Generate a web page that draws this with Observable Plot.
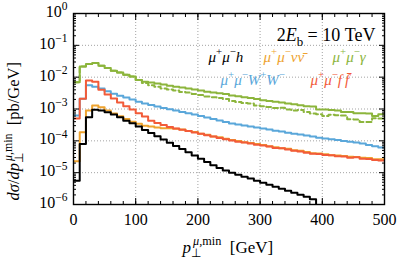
<!DOCTYPE html>
<html><head><meta charset="utf-8">
<script src="https://cdn.jsdelivr.net/npm/d3@7"></script>
<script src="https://cdn.jsdelivr.net/npm/@observablehq/plot@0.6"></script>
<style>body{margin:0;background:#fff;}</style>
</head><body><div id="chart"></div>
<script>
// bin left edges (10 GeV bins), upper edge of last bin
const binLeft = d3.range(0, 500, 10);
const lastEdge = 500;

// dσ/dp⊥ [pb/GeV] per bin
const muMuGamma = [6.9e-3,2.15e-2,2.6e-2,2.8e-2,2.3e-2,1.95e-2,1.6e-2,1.4e-2,1.2e-2,1.05e-2,
  8.1e-3,7.2e-3,6.8e-3,6.3e-3,5.9e-3,5.4e-3,5.0e-3,4.7e-3,4.4e-3,4.1e-3,
  3.8e-3,3.5e-3,3.3e-3,3.15e-3,2.95e-3,2.65e-3,2.5e-3,2.35e-3,2.2e-3,2.05e-3,
  1.9e-3,1.78e-3,1.69e-3,1.6e-3,1.48e-3,1.42e-3,1.32e-3,1.23e-3,1.2e-3,9.6e-4,
  9.6e-4,9.3e-4,8.9e-4,8.0e-4,8.0e-4,7.4e-4,7.4e-4,7.2e-4,6.0e-4,6.9e-4];
const muMuGammaDashed = [6.9e-3,2.15e-2,2.6e-2,2.8e-2,2.3e-2,1.95e-2,1.6e-2,1.4e-2,1.2e-2,1.05e-2,
  8.1e-3,6.5e-3,5.6e-3,5.0e-3,4.4e-3,4.1e-3,3.8e-3,3.4e-3,3.3e-3,2.95e-3,
  2.75e-3,2.45e-3,2.35e-3,2.2e-3,2.05e-3,1.78e-3,1.65e-3,1.55e-3,1.48e-3,1.28e-3,
  1.23e-3,1.15e-3,1.07e-3,1.1e-3,9.6e-4,8.9e-4,9.3e-4,8.0e-4,7.2e-4,6.9e-4,
  6.0e-4,6.6e-4,6.4e-4,6.2e-4,4.8e-4,4.7e-4,3.9e-4,3.9e-4,5.1e-4,5.0e-4];
const muMuWW = [6.2e-4,2.1e-3,5.6e-3,5.0e-3,4.4e-3,3.6e-3,3.0e-3,2.6e-3,2.3e-3,2.0e-3,
  1.7e-3,1.48e-3,1.33e-3,1.19e-3,1.08e-3,9.9e-4,8.9e-4,8.1e-4,7.4e-4,6.7e-4,
  6.07e-4,5.44e-4,4.89e-4,4.38e-4,3.93e-4,3.52e-4,3.23e-4,3.05e-4,2.8e-4,2.6e-4,
  2.42e-4,2.25e-4,2.09e-4,1.97e-4,1.81e-4,1.68e-4,1.57e-4,1.46e-4,1.36e-4,1.26e-4,
  1.19e-4,1.12e-4,1.06e-4,9.9e-5,9.3e-5,8.8e-5,8.2e-5,7.4e-5,6.8e-5,6.2e-5];
const muMuFF = [5.0e-4,2.1e-3,7.8e-3,7.2e-3,4.0e-3,2.84e-3,2.12e-3,1.59e-3,1.23e-3,9.6e-4,
  7.4e-4,5.8e-4,4.3e-4,3.6e-4,3.12e-4,2.74e-4,2.45e-4,2.22e-4,2.02e-4,1.84e-4,
  1.66e-4,1.5e-4,1.36e-4,1.23e-4,1.12e-4,1.03e-4,9.4e-5,8.8e-5,8.2e-5,7.6e-5,
  7.1e-5,6.6e-5,6.0e-5,5.8e-5,5.3e-5,4.85e-5,4.64e-5,4.2e-5,3.95e-5,3.85e-5,
  3.57e-5,3.52e-5,3.28e-5,3.23e-5,2.96e-5,3.05e-5,2.72e-5,2.68e-5,2.49e-5,2.42e-5];
const muMuNuNu = [2.27e-5,1.85e-4,8.9e-4,1.28e-3,1.13e-3,8.9e-4,7.2e-4,5.9e-4,4.89e-4,4.0e-4,
  3.47e-4,3.0e-4,2.8e-4,2.6e-4,2.5e-4,2.5e-4,2.4e-4,2.25e-4,2.02e-4,1.88e-4,
  1.68e-4,1.55e-4,1.38e-4,1.29e-4,1.16e-4,1.06e-4,9.8e-5,9.1e-5,8.5e-5,7.9e-5,
  7.4e-5,6.7e-5,6.3e-5,5.9e-5,5.6e-5,5.1e-5,4.85e-5,4.45e-5,4.07e-5,4.0e-5,
  3.78e-5,3.52e-5,3.47e-5,3.33e-5,3.15e-5,3.1e-5,2.93e-5,2.89e-5,2.65e-5,2.65e-5];
const muMuH = [5.6e-6,8.0e-5,5.5e-4,9.4e-4,8.9e-4,7.9e-4,6.7e-4,5.5e-4,4.3e-4,3.55e-4,
  2.8e-4,2.2e-4,1.75e-4,1.39e-4,1.1e-4,8.7e-5,6.9e-5,5.5e-5,4.35e-5,3.45e-5,
  2.74e-5,2.17e-5,1.72e-5,1.39e-5,1.16e-5,1.0e-5,8.6e-6,7.5e-6,6.5e-6,5.6e-6,
  4.85e-6,4.2e-6,3.63e-6,3.14e-6,2.72e-6,2.35e-6,2.03e-6,1.76e-6,1.47e-6,0,
  0,0,0,0,0,0,0,0,0,0];

const xMajor = [0,100,200,300,400,500];
const xMinor = d3.range(0, 501, 20);
const yMajor = [1e-6,1e-5,1e-4,1e-3,1e-2,1e-1,1];
const yMinor = yMajor.slice(0,-1).flatMap(d => d3.range(2,10).map(k => k*d));

const C = {h:"#000000", nu:"#eea32f", gam:"#8cb53c", ww:"#5aa7da", ff:"#f25b39"};

function steps(vals){
  const rows = vals.map((v,i)=>({x: binLeft[i], v: v > 0 ? v : 1e-9}));
  rows.push({x: lastEdge, v: rows[rows.length-1].v});
  return rows;
}

// rich text markup
const rich = {}; let rid = 0;
function R(segs, fs, supK = 0.42){
  let cur = 0, out = "";
  for (const [kind, s, o = {}] of segs){
    const shift = kind === "sup" ? -supK*fs : kind === "sub" ? 0.28*fs : 0;
    const size = kind === "t" ? fs : 0.72*fs;
    const dy = shift - cur; cur = shift;
    out += `<tspan dy="${dy}" font-size="${size}"${o.i ? ' font-style="italic"' : ''}${o.dx ? ` dx="${o.dx}"` : ''}>${s}</tspan>`;
  }
  const key = `@@${rid++}@@`; rich[key] = out; return key;
}
const TF = 16;
const yFmt = d => R([["t","10"],["sup", String(Math.round(Math.log10(d))).replace("-","−")]], TF);

const mm = [["t","μ",{i:1}],["sup","+"],["t","μ",{i:1}],["sup","−"]];
const LEG = 15;
const labH = R([...mm,["t","h",{i:1}]], LEG);
const labNu = R([...mm,["t","νν\u0304",{i:1}]], LEG);
const labGam = R([...mm,["t","γ",{i:1}]], LEG);
const labWW = R([...mm,["t","W",{i:1}],["sup","+"],["t","W",{i:1}],["sup","−"]], LEG);
const labFF = R([...mm,["t","f\u2009f\u0304",{i:1}]], LEG);
const labE = R([["t","2"],["t","E",{i:1}],["sub","b"],["t","\u00a0=\u00a010\u00a0TeV"]], 18);
const labX = R([["t","p",{i:1}],["sub","⊥"],["sup","μ",{i:1,dx:-8}],["sup",",min"],["t","\u00a0\u00a0[GeV]"]], 17);
const labY = R([["t","dσ",{i:1}],["t","/"],["t","dp",{i:1}],["sub","⊥"],["sup","μ",{i:1,dx:-8}],["sup",",min"],["t","\u00a0\u00a0[pb/GeV]"]], 16.5, 0.38);

const lineOpts = (c, extra={}) => ({x:"x", y:"v", curve:"step-after", stroke:c, strokeWidth:2, clip:true, ...extra});
const gridOpts = {stroke:"#999", strokeOpacity:1, strokeDasharray:"1,2", strokeWidth:0.9};
const noTxt = {tickFormat: () => "", label: null};

const plot = Plot.plot({
  width: 399, height: 266,
  marginLeft: 73, marginRight: 15, marginTop: 13, marginBottom: 62,
  style: {fontFamily: "'Liberation Serif', serif", fontSize: "16px", background: "#fff", color: "#000"},
  x: {domain: [0, 500]},
  y: {type: "log", domain: [1e-6, 1]},
  marks: [
    Plot.gridX(xMajor.slice(1,-1), gridOpts),
    Plot.gridY(yMajor.slice(1,-1), gridOpts),
    Plot.line(steps(muMuGammaDashed), lineOpts(C.gam, {strokeDasharray:"5,3"})),
    Plot.line(steps(muMuGamma), lineOpts(C.gam)),
    Plot.line(steps(muMuWW), lineOpts(C.ww)),
    Plot.line(steps(muMuNuNu), lineOpts(C.nu)),
    Plot.line(steps(muMuFF), lineOpts(C.ff)),
    Plot.line(steps(muMuH), lineOpts(C.h)),
    Plot.axisX(xMajor, {anchor:"bottom", tickSize:0, tickPadding:9, fontSize:TF, label:null}),
    Plot.axisX(xMajor, {anchor:"bottom", tickSize:6, dy:-6, ...noTxt}),
    Plot.axisX(xMinor, {anchor:"bottom", tickSize:3, dy:-3, ...noTxt}),
    Plot.axisX(xMajor, {anchor:"top", tickSize:6, dy:6, ...noTxt}),
    Plot.axisX(xMinor, {anchor:"top", tickSize:3, dy:3, ...noTxt}),
    Plot.axisY(yMajor, {anchor:"left", tickSize:0, tickPadding:6, dy:-1.5, fontSize:TF, tickFormat: yFmt, label:null}),
    Plot.axisY(yMajor, {anchor:"left", tickSize:6, dx:6, ...noTxt}),
    Plot.axisY(yMinor, {anchor:"left", tickSize:3, dx:3, ...noTxt}),
    Plot.axisY(yMajor, {anchor:"right", tickSize:6, dx:-6, ...noTxt}),
    Plot.axisY(yMinor, {anchor:"right", tickSize:3, dx:-3, ...noTxt}),
    Plot.frame({stroke:"#000", strokeWidth:1.4}),
    Plot.text([0], {frameAnchor:"top-right", dx:-9, dy:15, textAnchor:"end", fontSize:18, text: () => labE}),
    Plot.text([0], {frameAnchor:"top-left", dx:135, dy:37.5, textAnchor:"start", fontSize:LEG, fill:C.h, text: () => labH}),
    Plot.text([0], {frameAnchor:"top-left", dx:190, dy:37.5, textAnchor:"start", fontSize:LEG, fill:C.nu, text: () => labNu}),
    Plot.text([0], {frameAnchor:"top-left", dx:259, dy:37.5, textAnchor:"start", fontSize:LEG, fill:C.gam, text: () => labGam}),
    Plot.text([0], {frameAnchor:"top-left", dx:147, dy:60.5, textAnchor:"start", fontSize:LEG, fill:C.ww, text: () => labWW}),
    Plot.text([0], {frameAnchor:"top-left", dx:237, dy:60.5, textAnchor:"start", fontSize:LEG, fill:C.ff, text: () => labFF}),
    Plot.text([0], {frameAnchor:"bottom-left", dx:109, dy:48, textAnchor:"start", fontSize:17, text: () => labX}),
    Plot.text([0], {frameAnchor:"bottom-left", dx:-55, dy:-4, rotate:-90, textAnchor:"start", fontSize:16.5, text: () => labY})
  ]
});
plot.querySelectorAll("text").forEach(t => {
  const k = t.textContent;
  if (rich[k]) t.innerHTML = rich[k];
});
document.getElementById("chart").appendChild(plot);
</script>
</body></html>
